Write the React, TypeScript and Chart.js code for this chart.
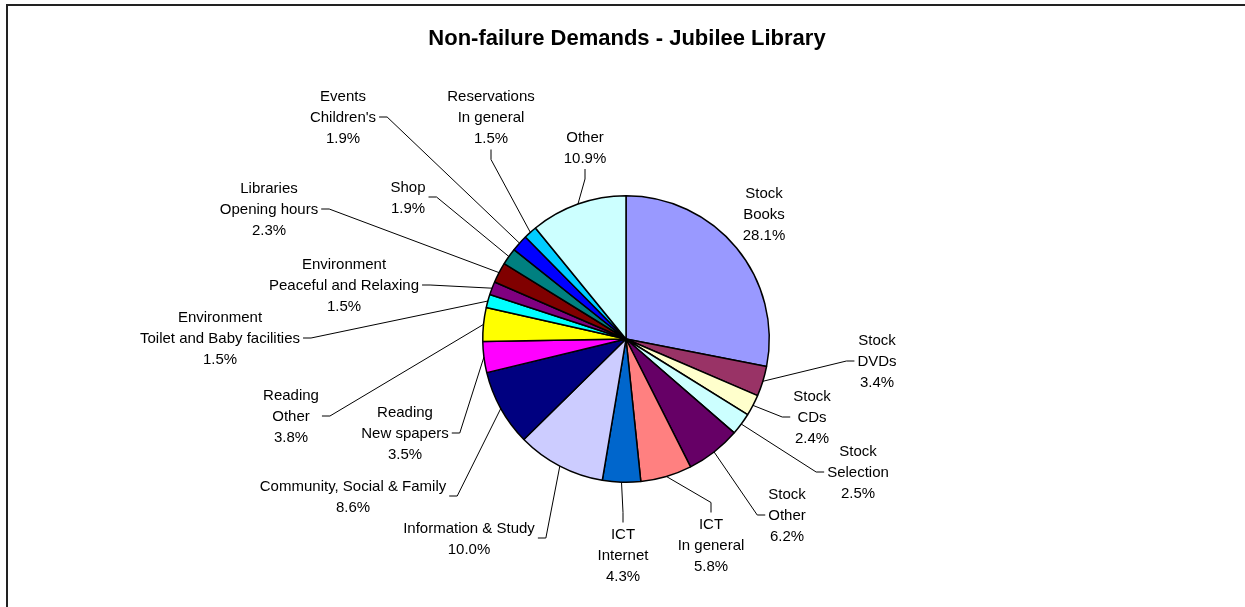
import React, { useEffect, useRef } from "react";
import { Chart, registerables } from "chart.js";

Chart.register(...registerables);

// ---- data ----
const TITLE = "Non-failure Demands - Jubilee Library";

const CATEGORIES: string[][] = [
  ["Stock", "Books"],
  ["Stock", "DVDs"],
  ["Stock", "CDs"],
  ["Stock", "Selection"],
  ["Stock", "Other"],
  ["ICT", "In general"],
  ["ICT", "Internet"],
  ["Information & Study"],
  ["Community, Social & Family"],
  ["Reading", "New spapers"],
  ["Reading", "Other"],
  ["Environment", "Toilet and Baby facilities"],
  ["Environment", "Peaceful and Relaxing"],
  ["Libraries", "Opening hours"],
  ["Shop"],
  ["Events", "Children's"],
  ["Reservations", "In general"],
  ["Other"],
];

const VALUES: number[] = [
  28.1, 3.4, 2.4, 2.5, 6.2, 5.8, 4.3, 10.0, 8.6, 3.5, 3.8, 1.5, 1.5, 2.3, 1.9, 1.9, 1.5, 10.9,
];

const COLORS: string[] = [
  "#9999FF", "#993366", "#FFFFCC", "#CCFFFF", "#660066", "#FF8080", "#0066CC", "#CCCCFF",
  "#000080", "#FF00FF", "#FFFF00", "#00FFFF", "#800080", "#800000", "#008080", "#0000FF",
  "#00CCFF", "#CCFFFF",
];

// ---- label layout (offset of label block centre from pie centre, leader attach side) ----
type Side = "none" | "left" | "right" | "top" | "bottom";
const LABEL_DX: number[] = [138, 251, 186, 232, 161, 85, -3, -157, -273, -221, -335, -406, -282, -357, -218, -283, -135, -41];
const LABEL_DY: number[] = [-125, 22, 78, 133, 176, 206, 216, 199, 157, 94, 77, -1, -54, -130, -142, -222, -222, -192];
const LABEL_SIDE: Side[] = [
  "none", "left", "left", "left", "left", "top", "top", "right", "right", "right", "right",
  "right", "right", "right", "right", "right", "bottom", "bottom",
];

const FONT_FAMILY = '"Liberation Sans", Arial, Helvetica, sans-serif';
const LINE_H = 21;

const labelPlugin = {
  id: "excelLabels",
  afterDraw(chart: any) {
    const ctx: CanvasRenderingContext2D = chart.ctx;
    const meta = chart.getDatasetMeta(0);
    ctx.save();
    // frame
    ctx.strokeStyle = "#222";
    ctx.lineWidth = 2;
    ctx.beginPath();
    ctx.moveTo(7, 700);
    ctx.lineTo(7, 5);
    ctx.lineTo(1300, 5);
    ctx.stroke();

    // title
    ctx.fillStyle = "#000";
    ctx.font = `bold 22px ${FONT_FAMILY}`;
    ctx.textAlign = "center";
    ctx.textBaseline = "alphabetic";
    ctx.fillText(TITLE, 627, 45);

    ctx.font = `15px ${FONT_FAMILY}`;
    meta.data.forEach((arc: any, i: number) => {
      const p = arc.getProps(["x", "y", "startAngle", "endAngle", "outerRadius"], true);
      const cx = p.x + LABEL_DX[i];
      const cy = p.y + LABEL_DY[i];
      const lines = [...CATEGORIES[i], VALUES[i].toFixed(1) + "%"];
      const n = lines.length;
      let w = 0;
      lines.forEach((l) => (w = Math.max(w, ctx.measureText(l).width)));
      ctx.fillStyle = "#000";
      ctx.textAlign = "center";
      lines.forEach((l, k) => {
        const ly = cy + (k - (n - 1) / 2) * LINE_H;
        ctx.fillText(l, cx, ly + 5.4);
      });
      const side = LABEL_SIDE[i];
      if (side === "none") return;
      const mid = (p.startAngle + p.endAngle) / 2;
      const sx = p.x + Math.cos(mid) * p.outerRadius;
      const sy = p.y + Math.sin(mid) * p.outerRadius;
      let ax = cx, ay = cy, ex = cx, ey = cy;
      const halfH = (n * LINE_H) / 2 - 2;
      if (side === "left") { ax = cx - w / 2 - 3; ex = ax - 8; ey = ay; }
      if (side === "right") { ax = cx + w / 2 + 3; ex = ax + 8; ey = ay; }
      if (side === "top") { ay = cy - halfH - 3; ey = ay - 10; ex = ax; }
      if (side === "bottom") { ay = cy + halfH + 3; ey = ay + 10; ex = ax; }
      ctx.strokeStyle = "#000";
      ctx.lineWidth = 1;
      ctx.beginPath();
      ctx.moveTo(sx, sy);
      ctx.lineTo(ex, ey);
      ctx.lineTo(ax, ay);
      ctx.stroke();
    });
    ctx.restore();
  },
};

export default function App() {
  const ref = useRef<HTMLCanvasElement>(null);
  useEffect(() => {
    document.body.style.margin = "0";
    const chart = new Chart(ref.current!, {
      type: "pie",
      data: {
        labels: CATEGORIES.map((c) => c.join(" ")),
        datasets: [
          {
            data: VALUES,
            backgroundColor: COLORS,
            borderColor: "#000",
            borderWidth: 1.5,
          },
        ],
      },
      options: {
        responsive: false,
        animation: false,
        layout: { padding: { left: 300, right: 293, top: 195, bottom: 124 } },
        plugins: {
          legend: { display: false },
          tooltip: { enabled: false },
          title: { display: false },
        },
      },
      plugins: [labelPlugin],
    });
    return () => chart.destroy();
  }, []);
  return (
    <div style={{ width: 1245, height: 607, background: "#fff" }}>
      <canvas ref={ref} width={1245} height={607} style={{ display: "block" }} />
    </div>
  );
}
